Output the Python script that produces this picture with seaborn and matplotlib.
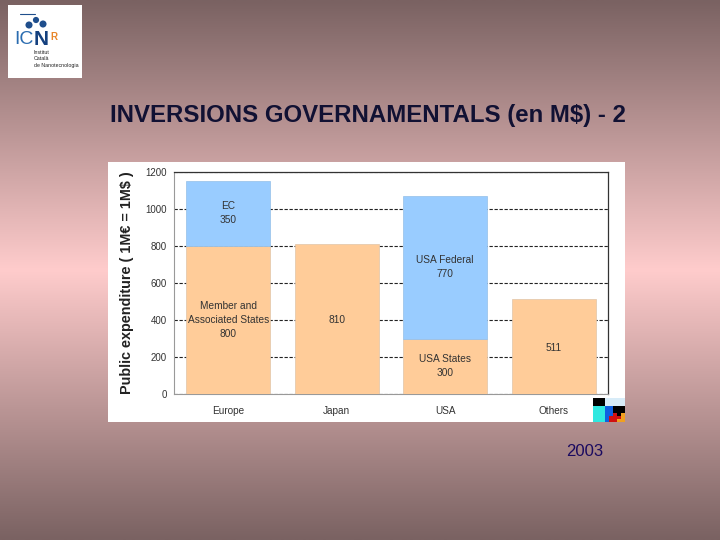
import numpy as np
import pandas as pd
import matplotlib
matplotlib.use("Agg")
import matplotlib.pyplot as plt
from matplotlib.colors import LinearSegmentedColormap, ListedColormap
import seaborn as sns

regions = ["Europe", "Japan", "USA", "Others"]
base_values = [800, 810, 300, 511]
top_regions = ["Europe", "USA"]
top_values = [350, 770]
top_bottoms = [800, 300]
base_labels = ["Member and\nAssociated States\n800", "810", "USA States\n300", "511"]
top_labels = ["EC\n350", "USA Federal\n770"]
y_ticks = [0, 200, 400, 600, 800, 1000, 1200]

W, H = 720, 540

sns.set_theme(style="white")
plt.rcParams["font.family"] = ["Liberation Sans", "DejaVu Sans"]


def px_axes(fig, x0, y0, x1, y1, **kw):
    # pixel box, measured from the top left of the picture
    return fig.add_axes([x0 / W, 1 - y1 / H, (x1 - x0) / W, (y1 - y0) / H], **kw)


fig = plt.figure(figsize=(7.2, 5.4), dpi=100)

# slide background
bg = px_axes(fig, 0, 0, W, H)
bg_cmap = LinearSegmentedColormap.from_list(
    "slide", [(0, "#7a6262"), (0.5, "#ffcccc"), (1, "#7a6262")])
bg.imshow(np.linspace(0, 1, 256).reshape(-1, 1), aspect="auto", cmap=bg_cmap)
bg.axis("off")

# logo
logo = px_axes(fig, 8, 5, 82, 78)
logo.set_xlim(8, 82)
logo.set_ylim(78, 5)
logo.set_xticks([])
logo.set_yticks([])
logo.set_facecolor("white")
for s in logo.spines.values():
    s.set_visible(False)
logo.plot([20, 35], [14, 14], color="#1f4e8c", lw=0.8)
logo.scatter([29, 36, 43], [25, 20, 24], s=[26, 20, 26], color="#1f4e8c", linewidths=0)
logo.text(14, 40, "IC", fontsize=14, color="#2a6cb0", va="center", ha="left")
logo.text(34, 40, "N", fontsize=15, color="#14407e", va="center", ha="left", fontweight="bold")
logo.text(50, 37, "R", fontsize=7, color="#e8862a", va="center", ha="left", fontweight="bold")
logo.text(34, 59, "Institut\nCatalà\nde Nanotecnologia", fontsize=3.8, color="#222222",
          va="center", ha="left", linespacing=1.3)

# white panel behind the chart
panel = px_axes(fig, 108, 162, 625, 422)
panel.set_xticks([])
panel.set_yticks([])
panel.set_facecolor("white")
for s in panel.spines.values():
    s.set_visible(False)

# chart
ax = px_axes(fig, 174, 172, 608, 394)
ax.patch.set_alpha(0)
df = pd.DataFrame({"region": regions, "base": base_values})
df_top = pd.DataFrame({"region": top_regions, "top": top_values, "under": top_bottoms})
sns.barplot(data=df, x="region", y="base", order=regions, color="#ffcc99", saturation=1,
            width=0.775, edgecolor="#e0c4a8", linewidth=0.5, ax=ax, zorder=3)
sns.barplot(data=df_top, x="region", y="top", order=regions, bottom=df_top["under"],
            color="#99ccff", saturation=1, width=0.775, edgecolor="#94bfe8", linewidth=0.5,
            ax=ax, zorder=3)
ax.set_xlim(-0.5, 3.5)
ax.set_ylim(0, 1200)
ax.set_yticks(y_ticks)
ax.set_xticks(np.arange(-0.5, 4, 1), minor=True)
ax.set_xticks(range(4))
ax.set_xticklabels(regions)
ax.tick_params(axis="x", which="major", length=0, labelsize=7.2, pad=9, colors="#333333")
ax.tick_params(axis="x", which="minor", length=2, width=0.7, color="#444444", direction="out")
ax.tick_params(axis="y", length=5, width=0.8, color="#333333", direction="out", pad=0,
               labelsize=7, labelcolor="#333333")
ax.yaxis.grid(True, color="#222222", lw=0.8, ls=(0, (3, 1.5)), zorder=0)
ax.set_axisbelow(True)
ax.set_xlabel("")
ax.set_ylabel("Public expenditure ( 1M€ = 1M$ )", fontsize=10.4, fontweight="bold",
              color="#222222")
ax.yaxis.set_label_coords(-0.092, 0.5)
for side, col, lw in [("left", "#999999", 0.8), ("bottom", "#999999", 0.8),
                      ("top", "#333333", 0.9), ("right", "#333333", 0.9)]:
    ax.spines[side].set_visible(True)
    ax.spines[side].set_color(col)
    ax.spines[side].set_linewidth(lw)

label_y = [400, 400, 154, 250]
for i, txt in enumerate(base_labels):
    ax.text(i, label_y[i], txt, ha="center", va="center", fontsize=7.3, color="#333333",
            linespacing=1.5, zorder=5)
top_y = [981, 684]
for name, y, txt in zip(top_regions, top_y, top_labels):
    ax.text(regions.index(name), y, txt, ha="center", va="center", fontsize=7.3, color="#333333",
            linespacing=1.5, zorder=5)

# colour swatch in the panel corner
swatch = px_axes(fig, 593, 398, 625, 422)
swatch_cells = [
    [0, 0, 0, 1, 1, 1, 1, 1],
    [0, 0, 0, 1, 1, 1, 1, 1],
    [0, 0, 0, 1, 1, 1, 1, 1],
    [2, 2, 2, 4, 4, 0, 0, 0],
    [2, 2, 2, 4, 4, 0, 0, 0],
    [2, 2, 2, 4, 4, 5, 0, 6],
    [2, 2, 2, 4, 5, 5, 5, 6],
    [2, 2, 2, 4, 5, 5, 6, 6],
]
swatch.imshow(swatch_cells, aspect="auto", interpolation="nearest",
              cmap=ListedColormap(["#000000", "#d8ecf8", "#30e8e0", "#000000", "#1060e0",
                                   "#d01010", "#f0a020"]), vmin=0, vmax=6)
swatch.axis("off")

fig.text(368 / W, 1 - 115 / H, "INVERSIONS GOVERNAMENTALS (en M$) - 2", ha="center", va="center",
         fontsize=17.3, fontweight="bold", color="#111133")
fig.text(585 / W, 1 - 452 / H, "2003", ha="center", va="center", fontsize=12, color="#1a0a60")

fig.savefig("out.png", dpi=100)
